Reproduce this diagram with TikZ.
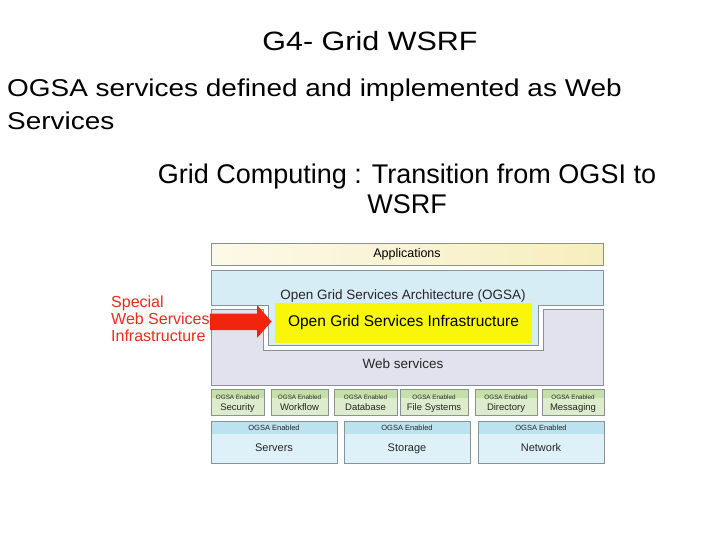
\documentclass[tikz,border=0pt]{standalone}
\usepackage{fontspec}
\setmainfont{Liberation Sans}
\newfontfamily\slidefont[FakeStretch=1.15]{Liberation Sans}
\usepackage{tikz}
\usetikzlibrary{positioning,calc}
\definecolor{EdgeGray}{RGB}{135,145,150}
\definecolor{AppYellow}{RGB}{247,238,190}
\definecolor{OgsaBlue}{RGB}{214,237,246}
\definecolor{WsGray}{RGB}{226,226,238}
\definecolor{OgsiYellow}{RGB}{250,246,10}
\definecolor{SvcGreen}{RGB}{220,236,204}
\definecolor{SvcHead}{RGB}{196,224,168}
\definecolor{ResBlue}{RGB}{222,241,248}
\definecolor{ResHead}{RGB}{188,226,239}
\definecolor{SpRed}{RGB}{232,45,28}
\definecolor{ArrowRed}{RGB}{242,36,14}
\tikzset{
  layer/.style={draw=EdgeGray,line width=0.8pt},
  lab/.style={inner sep=0pt,text=black!85,text height=0.72em,text depth=0pt},
  ogsi/.style={fill=OgsiYellow,minimum width=257pt,minimum height=40pt,inner sep=0pt,
    text height=0.72em,text depth=0pt,font=\fontsize{15.5}{18}\selectfont},
  svc/.style={layer,fill=SvcGreen,minimum height=26pt,inner sep=0pt,
    path picture={\fill[SvcHead] (path picture bounding box.north west) rectangle
      ([yshift=-9pt]path picture bounding box.north east);}},
  res/.style={layer,fill=ResBlue,minimum width=126pt,minimum height=42pt,inner sep=0pt,
    path picture={\fill[ResHead] (path picture bounding box.north west) rectangle
      ([yshift=-12.5pt]path picture bounding box.north east);}},
}
\tikzset{svctag/.style={lab,font=\fontsize{6.3}{7}\selectfont}, svclab/.style={lab,font=\fontsize{9.5}{11}\selectfont},
  restag/.style={lab,font=\fontsize{7.5}{9}\selectfont}, reslab/.style={lab,font=\fontsize{11}{13}\selectfont},
  redtext/.style={inner sep=0pt,anchor=base west,text=SpRed,font=\fontsize{16}{17}\selectfont}}

\begin{document}
\begin{tikzpicture}[x=1pt,y=-1pt]
\useasboundingbox (0,0) rectangle (720,540);
% slide text
\node[anchor=base,inner sep=0pt,font=\slidefont\fontsize{26.5}{30}\selectfont] (title) at (370,51) {G4- Grid WSRF};
\node[anchor=base west,inner sep=0pt,font=\slidefont\fontsize{24.3}{28}\selectfont] (intro1) at (7,97) {OGSA services defined and implemented as Web};
\node[anchor=base west,inner sep=0pt,font=\slidefont\fontsize{24.3}{28}\selectfont] (intro2) at (7,130) {Services};
\node[anchor=base,inner sep=0pt,font=\fontsize{27}{30}\selectfont] (fig1) at (407,183.5) {Grid Computing : Transition from OGSI to};
\node[anchor=base,inner sep=0pt,font=\fontsize{27}{30}\selectfont] (fig2) at (407,214) {WSRF};
% layers
\node[layer,left color=AppYellow!35!white,right color=AppYellow,minimum width=392pt,minimum height=22.5pt,
  inner sep=0pt,text height=0.72em,text depth=0pt,font=\fontsize{12.5}{14}\selectfont] (apps) at (407,254.3) {Applications};
\draw[layer,fill=OgsaBlue] (211,270) -- (603,270) -- (603,305) -- (538,305) -- (538,345)
  -- (268,345) -- (268,305) -- (211,305) -- cycle;
\draw[layer,fill=WsGray] (211,309) -- (263,309) -- (263,350) -- (543,350) -- (543,309)
  -- (603,309) -- (603,385) -- (211,385) -- cycle;
\node[lab,font=\fontsize{13.5}{16}\selectfont] (ogsa) at (403,295.5) {Open Grid Services Architecture (OGSA)};
\node[ogsi] (ogsiBox) at (403.5,323) {Open Grid Services Infrastructure};
\node[lab,font=\fontsize{13.5}{16}\selectfont] (ws) at (403,365) {Web services};
% special web services infrastructure
\node[redtext] (sp1) at (111,307.5) {Special};
\node[redtext] (sp2) at (111,324.5) {Web Services};
\node[redtext] (sp3) at (111,341.5) {Infrastructure};
\fill[ArrowRed] (210,313.5) -- (257,313.5) -- (257,305) -- (271.5,321.5) -- (257,338)
  -- (257,330) -- (210,330) -- cycle;
% ogsa enabled services
\node[svc,minimum width=53pt] (sec) at (237.5,402) {};
\node[svctag] (secTag) at (237.5,395.5) {OGSA Enabled};
\node[svclab] (secLab) at (237.5,407) {Security};
\node[svc,minimum width=57pt] (wf) at (299.5,402) {};
\node[svctag] (wfTag) at (299.5,395.5) {OGSA Enabled};
\node[svclab] (wfLab) at (299.5,407) {Workflow};
\node[svc,minimum width=63pt] (db) at (365.5,402) {};
\node[svctag] (dbTag) at (365.5,395.5) {OGSA Enabled};
\node[svclab] (dbLab) at (365.5,407) {Database};
\node[svc,minimum width=68pt] (fs) at (434,402) {};
\node[svctag] (fsTag) at (434,395.5) {OGSA Enabled};
\node[svclab] (fsLab) at (434,407) {File Systems};
\node[svc,minimum width=62pt] (dir) at (506,402) {};
\node[svctag] (dirTag) at (506,395.5) {OGSA Enabled};
\node[svclab] (dirLab) at (506,407) {Directory};
\node[svc,minimum width=62pt] (msg) at (573,402) {};
\node[svctag] (msgTag) at (573,395.5) {OGSA Enabled};
\node[svclab] (msgLab) at (573,407) {Messaging};
% resources
\node[res] (srv) at (274,442) {};
\node[restag] (srvTag) at (274,427.3) {OGSA Enabled};
\node[reslab] (srvLab) at (274,448) {Servers};
\node[res] (sto) at (407,442) {};
\node[restag] (stoTag) at (407,427.3) {OGSA Enabled};
\node[reslab] (stoLab) at (407,448) {Storage};
\node[res] (net) at (541,442) {};
\node[restag] (netTag) at (541,427.3) {OGSA Enabled};
\node[reslab] (netLab) at (541,448) {Network};
\end{tikzpicture}
\end{document}
